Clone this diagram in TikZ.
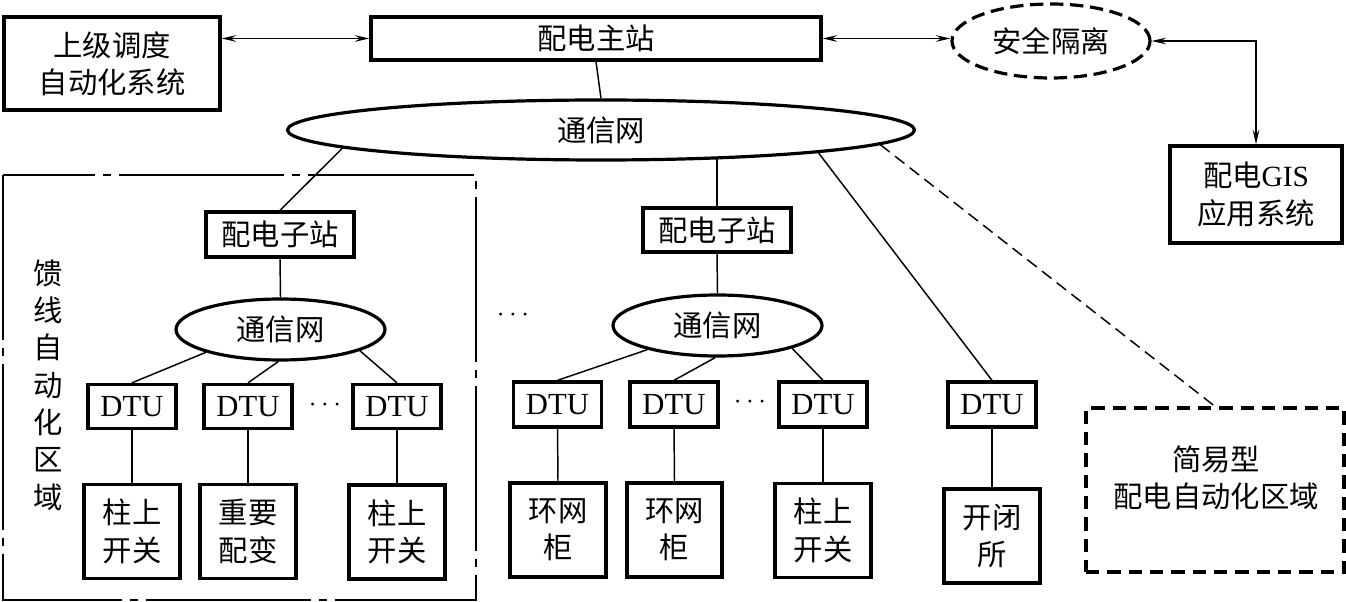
\documentclass[tikz,border=0pt]{standalone}
\usepackage{fontspec}
\setmainfont{Liberation Serif}
\newfontfamily\cjk{Noto Sans CJK SC}
\usetikzlibrary{shapes.geometric,arrows.meta}
\tikzset{
  px/.style={x=0.75pt,y=-0.75pt},
  txt/.style={font=\fontsize{22}{28}\selectfont\cjk,align=center,inner sep=0pt},
  box/.style={draw,line width=2.5pt,txt,minimum width=#1*0.75pt},
  dtubox/.style={draw,line width=2.5pt,inner sep=0pt,minimum width=88*0.75pt,minimum height=44*0.75pt,font=\fontsize{23}{26}\selectfont\rmfamily},
  leafbox/.style={box=96,minimum height=94*0.75pt},
  netell/.style={draw,ellipse,line width=2.4pt,txt},
  conn/.style={line width=1.1pt},
  arr/.style={line width=1.1pt,{Stealth[length=11pt,width=5pt,inset=4pt]}-{Stealth[length=11pt,width=5pt,inset=4pt]}},
  dotsn/.style={inner sep=0pt,font=\fontsize{20}{20}\selectfont}
}
\begin{document}
\begin{tikzpicture}[px]
\useasboundingbox (0,0) rectangle (1346,602);
% top row
\node[box=216,minimum height=93*0.75pt] (sup) at (112,63.5) {上级调度\\自动化系统};
\node[box=450,minimum height=43*0.75pt] (main) at (596,38.5) {配电主站};
\node[netell,dashed,dash pattern=on 10pt off 5pt,minimum width=198*0.75pt,minimum height=74*0.75pt] (iso) at (1051,41) {安全隔离};
\node[box=172,minimum height=97*0.75pt] (gis) at (1256,194.5) {配电{\rmfamily GIS}\\应用系统};
\node[netell,minimum width=627*0.75pt,minimum height=60*0.75pt] (net) at (601,130) {通信网};
\draw[arr] (sup.east |- main.west) -- (main.west);
\draw[arr] (main.east) -- (main.east -| iso.west);
\draw[arr] (iso.east) -| (gis.north);
\draw[conn] (main.south) -- (net.north);
% feeder region
\draw[line width=1.6pt,dash pattern=on 124pt off 6pt on 6pt off 6pt] (3,175) rectangle (476,600);
\node[txt] (feedtxt) at (48,385) {馈\\线\\自\\动\\化\\区\\域};
\node[box=148,minimum height=45*0.75pt] (sub1) at (280,234.5) {配电子站};
\node[netell,minimum width=209*0.75pt,minimum height=61*0.75pt] (net1) at (280.5,329.5) {通信网};
\node[dtubox] (d1a) at (132,406.5) {DTU};
\node[dtubox] (d1b) at (248,406.5) {DTU};
\node[dtubox] (d1c) at (397,406.5) {DTU};
\node[dotsn] (dots1) at (325,405) {$\cdots$};
\node[leafbox] (b1a) at (132,531.5) {柱上\\开关};
\node[leafbox] (b1b) at (248,531.5) {重要\\配变};
\node[leafbox] (b1c) at (397,532) {柱上\\开关};
\draw[conn] (net.184) -- (sub1.north);
\draw[conn] (sub1.south) -- (net1.north);
\draw[conn] (net1.197) -- (d1a.north);
\draw[conn] (net1.266) -- (d1b.north);
\draw[conn] (net1.-15) -- (d1c.north);
\draw[conn] (d1a.south) -- (b1a.north);
\draw[conn] (d1b.south) -- (b1b.north);
\draw[conn] (d1c.south) -- (b1c.north);
% middle group
\node[dotsn] (dots0) at (513,315) {$\cdots$};
\node[box=148,minimum height=44*0.75pt] (sub2) at (717,230) {配电子站};
\node[netell,minimum width=209*0.75pt,minimum height=61*0.75pt] (net2) at (717.5,325.5) {通信网};
\node[dtubox,minimum height=45*0.75pt] (d2a) at (557.5,404.5) {DTU};
\node[dtubox,minimum height=45*0.75pt] (d2b) at (674,404.5) {DTU};
\node[dtubox,minimum height=45*0.75pt] (d2c) at (823,404.5) {DTU};
\node[dotsn] (dots2) at (750,402) {$\cdots$};
\node[leafbox] (b2a) at (558,530) {环网\\柜};
\node[leafbox,minimum width=95*0.75pt] (b2b) at (674.5,530) {环网\\柜};
\node[leafbox] (b2c) at (823,530.5) {柱上\\开关};
\draw[conn] ([yshift=2pt]sub2.north |- net.south) -- (sub2.north);
\draw[conn] (sub2.south) -- (net2.north);
\draw[conn] (net2.199) -- (d2a.north);
\draw[conn] (net2.266) -- (d2b.north);
\draw[conn] (net2.-17) -- (d2c.north);
\draw[conn] (d2a.south) -- (b2a.north);
\draw[conn] (d2b.south) -- (b2b.north);
\draw[conn] (d2c.south) -- (b2c.north);
% right group
\node[dtubox,minimum height=45*0.75pt] (d3) at (992,404.5) {DTU};
\node[leafbox] (b3) at (992,536) {开闭\\所};
\draw[conn] (net.-6.5) -- (d3.north);
\draw[conn] (d3.south) -- (b3.north);
% simple region
\node[draw,line width=2.4pt,dash pattern=on 10pt off 6pt,minimum width=258*0.75pt,minimum height=164*0.75pt] (simple) at (1215,490) {};
\node[txt] (simpletxt) at (1216,478) {简易型\\配电自动化区域};
\draw[conn,dash pattern=on 9pt off 5pt] (net.-3.5) -- (simple.north);
\end{tikzpicture}
\end{document}
